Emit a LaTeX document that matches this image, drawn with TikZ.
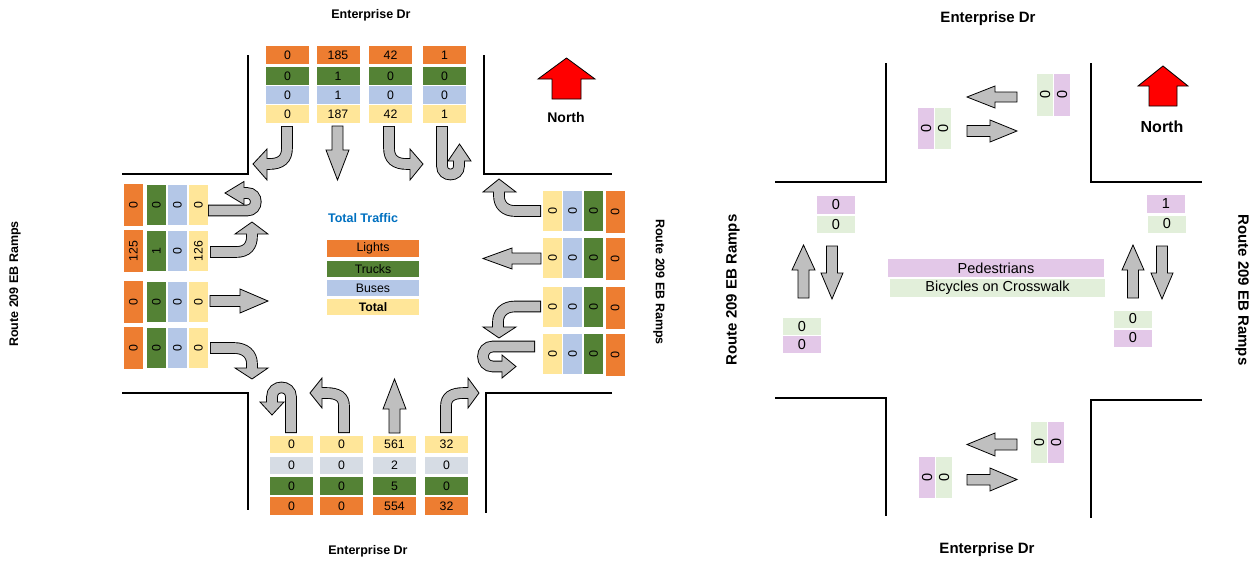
\documentclass[tikz,border=0pt]{standalone}
\usepackage{fontspec}
\setmainfont{Liberation Sans}
\definecolor{agray}{HTML}{BFBFBF}
\definecolor{cO}{HTML}{ED7D31}
\definecolor{cG}{HTML}{548235}
\definecolor{cB}{HTML}{B4C7E7}
\definecolor{cY}{HTML}{FFE699}
\definecolor{cS}{HTML}{D6DCE4}
\definecolor{cP}{HTML}{E3C8E8}
\definecolor{cL}{HTML}{E2EFDA}
\definecolor{tblue}{HTML}{0070C0}
\newcommand\barr[2]{\draw[shout] #1; \filldraw[hd] #2; \draw[shin] #1;}
\begin{document}
\begin{tikzpicture}[x=1pt,y=-1pt,
 cell/.style={inner sep=0pt, outer sep=0pt, font=\fontsize{12.3}{13}\selectfont, text=black},
 rcell/.style={inner sep=0pt, outer sep=0pt, font=\fontsize{14.5}{15}\selectfont, text=black},
 lblS/.style={font=\bfseries\fontsize{12.5}{14}\selectfont},
 lblL/.style={font=\bfseries\fontsize{15}{17}\selectfont},
 shout/.style={line width=11.6pt, draw=black},
 shin/.style={line width=9.8pt, draw=agray, shorten <=0.9pt},
 hd/.style={fill=agray, draw=black, line width=0.8pt, line join=miter},
 blk/.style={fill=agray, draw=black, line width=0.8pt, line join=miter},
 red/.style={fill=red, draw=black, line width=0.8pt, line join=miter},
 road/.style={line width=2pt, draw=black, line join=miter}]
\useasboundingbox (0,0) rectangle (1253,562);

% ================= LEFT DIAGRAM =================
\node[lblS] (tN) at (371,15) {Enterprise Dr};
\node[lblS] (tS) at (368,551) {Enterprise Dr};
\node[lblS, rotate=90] (tW) at (15,284) {Route 209 EB Ramps};
\node[lblS, rotate=-90] (tE) at (659,282) {Route 209 EB Ramps};

% roads
\draw[road] (248,55) -- (248,174) -- (122,174);
\draw[road] (484,55) -- (484,174) -- (612,174);
\draw[road] (122,393) -- (248,393) -- (248,510);
\draw[road] (612,393) -- (486,393) -- (486,513);

% north arrow
\filldraw[red] (552,99) -- (552,79) -- (538,79) -- (566.5,58) -- (595,79) -- (581,79) -- (581,99) -- cycle;
\node[font=\bfseries\fontsize{14}{16}\selectfont] (nL) at (566,117) {North};

% north approach tables
\foreach \x/\a/\b/\c/\d [count=\i] in {287.5/0/0/0/0, 338/185/1/1/187, 390.5/42/0/0/42, 444.5/1/0/0/1}{
 \node[cell, fill=cO, minimum width=43, minimum height=17.5] (no\i) at (\x,55) {\a};
 \node[cell, fill=cG, minimum width=43, minimum height=17.5] (ng\i) at (\x,76) {\b};
 \node[cell, fill=cB, minimum width=43, minimum height=17.5] (nb\i) at (\x,95) {\c};
 \node[cell, fill=cY, minimum width=43, minimum height=17.5] (ny\i) at (\x,114) {\d};
}
% west approach tables
\foreach \y/\a/\b/\c/\d [count=\i] in {205/0/0/0/0, 251/125/1/0/126, 302/0/0/0/0, 348/0/0/0/0}{
 \node[cell, rotate=90, fill=cO, minimum width=42, minimum height=19] (wo\i) at (133.5,\y) {\a};
 \node[cell, rotate=90, fill=cG, minimum width=40, minimum height=19] (wg\i) at (156.5,\y) {\b};
 \node[cell, rotate=90, fill=cB, minimum width=40, minimum height=19] (wb\i) at (177.5,\y) {\c};
 \node[cell, rotate=90, fill=cY, minimum width=40, minimum height=19] (wy\i) at (198.5,\y) {\d};
}
% east approach tables
\foreach \y [count=\i] in {211, 258, 307, 354}{
 \node[cell, rotate=-90, fill=cY, minimum width=40, minimum height=19] (ey\i) at (552.5,\y) {0};
 \node[cell, rotate=-90, fill=cB, minimum width=40, minimum height=19] (eb\i) at (572.5,\y) {0};
 \node[cell, rotate=-90, fill=cG, minimum width=40, minimum height=19] (eg\i) at (593.5,\y) {0};
 \node[cell, rotate=-90, fill=cO, minimum width=42, minimum height=19] (eo\i) at (615,\y+1) {0};
}
% south approach tables
\foreach \x/\a/\b/\c/\d [count=\i] in {291.5/0/0/0/0, 341.5/0/0/0/0, 394.5/561/2/5/554, 446.5/32/0/0/32}{
 \node[cell, fill=cY, minimum width=43, minimum height=17.5] (sy\i) at (\x,444.5) {\a};
 \node[cell, fill=cS, minimum width=43, minimum height=17.5] (ss\i) at (\x,465.5) {\b};
 \node[cell, fill=cG, minimum width=43, minimum height=17.5] (sg\i) at (\x,486) {\c};
 \node[cell, fill=cO, minimum width=43, minimum height=17.5] (so\i) at (\x,506) {\d};
}

% legend
\node[font=\bfseries\fontsize{12.5}{14}\selectfont, text=tblue] (ttl) at (363,218) {Total Traffic};
\node[cell, fill=cO, minimum width=92, minimum height=17] (lg1) at (373,248.5) {Lights};
\node[cell, fill=cG, minimum width=92, minimum height=16] (lg2) at (373,269) {Trucks};
\node[cell, fill=cB, minimum width=92, minimum height=16] (lg3) at (373,288) {Buses};
\node[cell, fill=cY, minimum width=92, minimum height=16, font=\bfseries\fontsize{12.3}{13}\selectfont] (lg4) at (373,307) {Total};

% north approach arrows
\barr{(287,126) -- (287,148) .. controls (287,159) and (281,164) .. (269,164) -- (265,164)}{(267,149) -- (253,164) -- (267,180) -- cycle}
\filldraw[blk] (332,126) -- (332,150) -- (326,150) -- (337.5,180) -- (349,150) -- (343,150) -- (343,126) -- cycle;
\barr{(389,126) -- (389,148) .. controls (389,159) and (395,164) .. (407,164) -- (412,164)}{(410,149) -- (423,164) -- (410,180) -- cycle}
\barr{(442,126) -- (442,166) .. controls (442,177.3) and (459,177.3) .. (459,166) -- (459,159)}{(448,161) -- (459.5,144) -- (471,161) -- cycle}

% west approach arrows
\barr{(208,210.5) -- (247,210.5) .. controls (258.7,210.5) and (258.7,193) .. (247,193) -- (242,193)}{(244,181.5) -- (225,193) -- (244,204.5) -- cycle}
\barr{(210,252) -- (236,252) .. controls (247,252) and (252,246) .. (252,236) -- (252,232)}{(235,234) -- (252,222) -- (268,234) -- cycle}
\filldraw[blk] (210,295.5) -- (240,295.5) -- (240,289) -- (268,301) -- (240,313) -- (240,306.5) -- (210,306.5) -- cycle;
\barr{(210,348) -- (234,348) .. controls (245,348) and (252,354) .. (252,364) -- (252,370)}{(235,368) -- (252,379) -- (268,368) -- cycle}

% east approach arrows
\barr{(541,211) -- (515,211) .. controls (505,211) and (499,205) .. (499,196) -- (499,190)}{(483,192) -- (499,179) -- (516,192) -- cycle}
\filldraw[blk] (541,253) -- (512,253) -- (512,248) -- (483,258.5) -- (512,269) -- (512,264) -- (541,264) -- cycle;
\barr{(541,306.5) -- (515,306.5) .. controls (504,306.5) and (498,313) .. (498,322) -- (498,329)}{(483,327) -- (499,338) -- (516,327) -- cycle}
\barr{(535,346.5) -- (493,346.5) .. controls (479.7,346.5) and (479.7,366.5) .. (493,366.5) -- (504,366.5)}{(502,355) -- (516,366.5) -- (502,378) -- cycle}

% south approach arrows
\barr{(291,433) -- (291,397) .. controls (291,384.3) and (272,384.3) .. (272,397) -- (272,404)}{(260,402) -- (272,415) -- (284,402) -- cycle}
\barr{(344,433) -- (344,406) .. controls (344,397) and (338,393) .. (326,393) -- (320,393)}{(322,378) -- (310,393) -- (322,408) -- cycle}
\filldraw[blk] (389,433) -- (389,409) -- (383,409) -- (394.5,379) -- (406,409) -- (400,409) -- (400,433) -- cycle;
\barr{(446,433) -- (446,406) .. controls (446,397) and (452,393) .. (464,393) -- (470,393)}{(468,378) -- (479,393) -- (468,408) -- cycle}

% ================= RIGHT DIAGRAM =================
\node[lblL] (rtN) at (988,19) {Enterprise Dr};
\node[lblL] (rtS) at (987,550) {Enterprise Dr};
\node[lblL, rotate=90] (rtW) at (733,290) {Route 209 EB Ramps};
\node[lblL, rotate=-90] (rtE) at (1242,290) {Route 209 EB Ramps};

\draw[road] (886,63) -- (886,182) -- (775,182);
\draw[road] (1091,63) -- (1091,182) -- (1202,182);
\draw[road] (775,398) -- (886,398) -- (886,516);
\draw[road] (1202,400) -- (1091,400) -- (1091,518);

\filldraw[red] (1149,106) -- (1149,86) -- (1138,86) -- (1163,66) -- (1188,86) -- (1177,86) -- (1177,106) -- cycle;
\node[font=\bfseries\fontsize{16}{18}\selectfont] (nR) at (1162,127) {North};

% north crosswalk
\filldraw[blk] (1017,92) -- (995,92) -- (995,86) -- (967,97) -- (995,108) -- (995,102) -- (1017,102) -- cycle;
\filldraw[blk] (967,125.5) -- (990,125.5) -- (990,120) -- (1017,131) -- (990,142) -- (990,136.5) -- (967,136.5) -- cycle;
\node[rcell, rotate=90, fill=cP, minimum width=41, minimum height=16] (pa1) at (926,128.5) {0};
\node[rcell, rotate=90, fill=cL, minimum width=41, minimum height=16] (pa2) at (943,128.5) {0};
\node[rcell, rotate=-90, fill=cL, minimum width=42, minimum height=16] (pb1) at (1045,95) {0};
\node[rcell, rotate=-90, fill=cP, minimum width=42, minimum height=16] (pb2) at (1062,95) {0};

% south crosswalk
\filldraw[blk] (1017,439) -- (995,439) -- (995,433) -- (967,444.5) -- (995,456) -- (995,450) -- (1017,450) -- cycle;
\filldraw[blk] (967,474.5) -- (990,474.5) -- (990,468) -- (1017,479.5) -- (990,491) -- (990,485) -- (967,485) -- cycle;
\node[rcell, rotate=-90, fill=cL, minimum width=41, minimum height=16] (pc1) at (1039,442.5) {0};
\node[rcell, rotate=-90, fill=cP, minimum width=41, minimum height=16] (pc2) at (1056,442.5) {0};
\node[rcell, rotate=90, fill=cP, minimum width=41, minimum height=16] (pd1) at (927,477.5) {0};
\node[rcell, rotate=90, fill=cL, minimum width=41, minimum height=16] (pd2) at (944,477.5) {0};

% west crosswalk
\node[rcell, fill=cP, minimum width=38, minimum height=18] (pe1) at (836,205) {0};
\node[rcell, fill=cL, minimum width=38, minimum height=17] (pe2) at (836,224.5) {0};
\node[rcell, fill=cL, minimum width=38, minimum height=17] (pf1) at (802,326.5) {0};
\node[rcell, fill=cP, minimum width=38, minimum height=17] (pf2) at (802,344.5) {0};
\filldraw[blk] (798,298) -- (798,270) -- (792,270) -- (803.5,245) -- (815,270) -- (809,270) -- (809,298) -- cycle;
\filldraw[blk] (826.5,246) -- (826.5,273) -- (821,273) -- (832,299) -- (843,273) -- (837.5,273) -- (837.5,246) -- cycle;

% east crosswalk
\node[rcell, fill=cP, minimum width=38, minimum height=18] (pg1) at (1166,204) {1};
\node[rcell, fill=cL, minimum width=38, minimum height=17] (pg2) at (1167,224) {0};
\node[rcell, fill=cL, minimum width=38, minimum height=17] (ph1) at (1133,319) {0};
\node[rcell, fill=cP, minimum width=38, minimum height=17] (ph2) at (1133,338) {0};
\filldraw[blk] (1127.5,298) -- (1127.5,270) -- (1122,270) -- (1133,245) -- (1144,270) -- (1138.5,270) -- (1138.5,298) -- cycle;
\filldraw[blk] (1156.5,246) -- (1156.5,273) -- (1151,273) -- (1162,299) -- (1173,273) -- (1167.5,273) -- (1167.5,246) -- cycle;

% legend
\node[rcell, fill=cP, minimum width=216, minimum height=18] (lp) at (996,268) {Pedestrians};
\node[rcell, fill=cL, minimum width=215, minimum height=18] (lb) at (997.5,288) {Bicycles on Crosswalk};
\end{tikzpicture}
\end{document}
